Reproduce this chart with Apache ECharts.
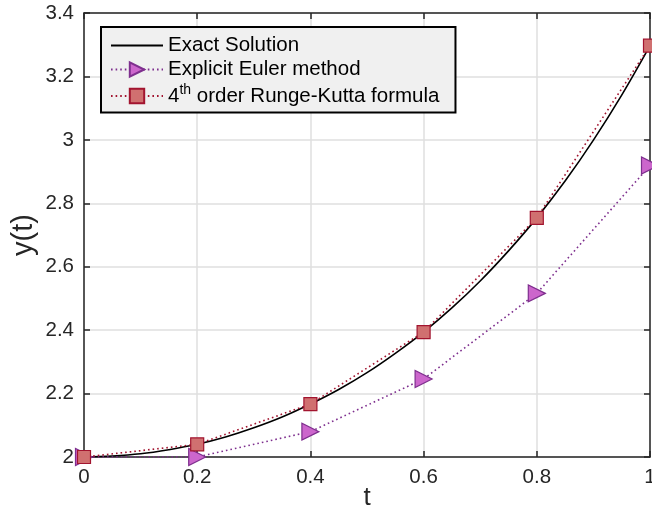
<!DOCTYPE html>
<html>
<head>
<meta charset="utf-8">
<script src="https://cdn.jsdelivr.net/npm/echarts@6/dist/echarts.min.js"></script>
<style>
  html, body { margin: 0; padding: 0; background: #fff; }
  #chart { width: 652px; height: 520px; }
</style>
</head>
<body>
<div id="chart"></div>
<script>
// exact curve at dt = 0.05
const tFine = [0, 0.05, 0.1, 0.15, 0.2, 0.25, 0.3, 0.35, 0.4, 0.45, 0.5,
               0.55, 0.6, 0.65, 0.7, 0.75, 0.8, 0.85, 0.9, 0.95, 1.0];
const yExact = [2.000, 2.003, 2.010, 2.023, 2.040, 2.063, 2.092, 2.126, 2.167, 2.213, 2.266,
                2.327, 2.394, 2.470, 2.555, 2.650, 2.754, 2.870, 2.999, 3.141, 3.297];

// step points (h = 0.2)
const tStep = [0, 0.2, 0.4, 0.6, 0.8, 1.0];
const yEuler = [2.000, 2.000, 2.080, 2.246, 2.516, 2.919];
const yRK4 = [2.000, 2.040, 2.167, 2.394, 2.754, 3.297];

const xTicks = [0, 0.2, 0.4, 0.6, 0.8, 1];
const yTicks = [2, 2.2, 2.4, 2.6, 2.8, 3, 3.2, 3.4];

const pairs = (xs, ys) => xs.map((x, i) => [x, ys[i]]);

const font = 'Liberation Sans, Arial, Helvetica, sans-serif';
const axisCol = '#262626';

function axisBase(extra) {
    return Object.assign({
        type: 'value',
        axisLine: { show: true, onZero: false, lineStyle: { color: axisCol, width: 1.5 } },
        axisTick: { show: true, inside: true, length: 6, lineStyle: { color: axisCol, width: 1.5 } },
        axisLabel: { show: false },
        splitLine: { show: false }
    }, extra);
}

const chart = echarts.init(document.getElementById('chart'));
const option = {
    animation: false,
    backgroundColor: '#fff',
    grid: { left: 84, right: 2, top: 13, bottom: 63, containLabel: false, outerBoundsMode: 'none' },
    legend: {
        orient: 'vertical',
        left: 101,
        top: 27,
        padding: [8, 16, 6, 9],
        itemGap: 3,
        itemWidth: 52,
        itemHeight: 18,
        backgroundColor: '#f0f0f0',
        borderColor: '#000',
        borderWidth: 2,
        borderRadius: 0,
        textStyle: {
            fontFamily: font,
            fontSize: 20.5,
            color: '#000',
            rich: {
                sup: { fontSize: 14, verticalAlign: 'bottom', padding: [0, 0, 12, 0], fontFamily: font, color: '#000' },
                n: { fontSize: 20.5, fontFamily: font, color: '#000' }
            }
        },
        formatter: function (name) {
            if (name.indexOf('Runge') >= 0) return '{n|4}{sup|th}{n| order Runge-Kutta formula}';
            return name;
        },
        data: [
            { name: 'Exact Solution', itemStyle: { opacity: 0 } },
            'Explicit Euler method',
            '4th order Runge-Kutta formula'
        ]
    },
    xAxis: [
        axisBase({
            min: 0, max: 1, interval: 0.2,
            position: 'bottom',
            name: 't',
            nameLocation: 'middle',
            nameGap: 28,
            nameMoveOverlap: false,
            nameTextStyle: { fontFamily: font, fontSize: 26, color: axisCol },
            axisLabel: {
                show: true, margin: 10, fontFamily: font, fontSize: 20.5, color: axisCol,
                formatter: v => String(xTicks.find(t => Math.abs(t - v) < 1e-9) ?? v)
            },
            splitLine: { show: true, lineStyle: { color: '#dfdfdf', width: 1.5 } }
        }),
        axisBase({ min: 0, max: 1, interval: 0.2, position: 'top' })
    ],
    yAxis: [
        axisBase({
            min: 2, max: 3.4, interval: 0.2,
            position: 'left',
            name: 'y(t)',
            nameLocation: 'middle',
            nameGap: 46,
            nameMoveOverlap: false,
            nameTextStyle: { fontFamily: font, fontSize: 29, color: axisCol },
            axisLabel: {
                show: true, margin: 10, fontFamily: font, fontSize: 20.5, color: axisCol,
                formatter: v => String(yTicks.find(t => Math.abs(t - v) < 1e-9) ?? v)
            },
            splitLine: { show: true, lineStyle: { color: '#dfdfdf', width: 1.5 } }
        }),
        axisBase({ min: 2, max: 3.4, interval: 0.2, position: 'right' })
    ],
    series: [
        {
            name: 'Exact Solution',
            type: 'line',
            data: pairs(tFine, yExact),
            showSymbol: false,
            smooth: 0.4,
            lineStyle: { color: '#000', width: 1.6 },
            itemStyle: { color: '#000' },
            z: 3
        },
        {
            name: 'Explicit Euler method',
            type: 'line',
            data: pairs(tStep, yEuler),
            symbol: 'triangle',
            symbolSize: 17,
            symbolRotate: -90,
            lineStyle: { color: '#7e2f8e', width: 1.6, type: [1.6, 3] },
            itemStyle: { color: '#cc66cc', borderColor: '#7e2f8e', borderWidth: 1.2 },
            z: 4
        },
        {
            name: '4th order Runge-Kutta formula',
            type: 'line',
            data: pairs(tStep, yRK4),
            symbol: 'rect',
            symbolSize: 13,
            lineStyle: { color: '#a2142f', width: 1.6, type: [1.6, 3] },
            itemStyle: { color: '#d07070', borderColor: '#a2142f', borderWidth: 1.2 },
            z: 5
        }
    ]
};
option && chart.setOption(option);
</script>
</body>
</html>
